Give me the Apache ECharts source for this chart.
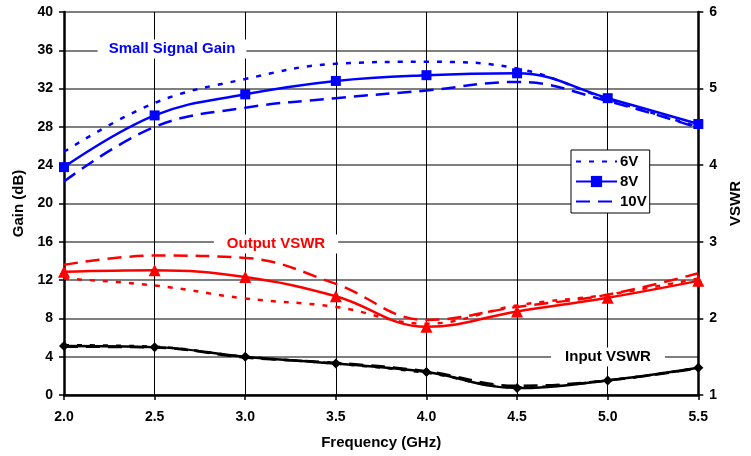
<!DOCTYPE html>
<html><head><meta charset="utf-8">
<script src="https://cdn.jsdelivr.net/npm/echarts@6/dist/echarts.min.js"></script>
<style>html,body{margin:0;padding:0;background:#fff}#c{width:751px;height:456px}</style>
</head><body><div id="c"></div>
<script>
const freq = [2.0, 2.5, 3.0, 3.5, 4.0, 4.5, 5.0, 5.5];
const xTicks = ['2.0','2.5','3.0','3.5','4.0','4.5','5.0','5.5'];
// Small signal gain (dB)
const gain6V  = [25.4, 30.5, 33.0, 34.6, 34.8, 34.1, 30.9, 28.0];
const gain8V  = [23.8, 29.2, 31.4, 32.8, 33.4, 33.6, 31.0, 28.3];
const gain10V = [22.3, 28.0, 30.0, 31.0, 31.8, 32.7, 30.7, 27.9];
// Output VSWR
const out6V  = [2.52, 2.43, 2.26, 2.15, 1.93, 2.17, 2.31, 2.52];
const out8V  = [2.61, 2.63, 2.54, 2.29, 1.89, 2.09, 2.27, 2.49];
const out10V = [2.70, 2.82, 2.79, 2.45, 1.98, 2.15, 2.31, 2.59];
// Input VSWR
const in6V  = [1.65, 1.63, 1.50, 1.41, 1.29, 1.10, 1.19, 1.355];
const in8V  = [1.64, 1.625, 1.50, 1.41, 1.30, 1.09, 1.19, 1.355];
const in10V = [1.63, 1.62, 1.49, 1.42, 1.31, 1.12, 1.19, 1.35];

const pairs = arr => freq.map((f, i) => [f, arr[i]]);
const FONT = 'Liberation Sans';
const dotted = [5, 8], dashed = [14, 8];

function line(name, data, color, type, yIdx, symbol, size) {
  return {
    name, type: 'line', data: pairs(data), yAxisIndex: yIdx, smooth: 0.4,
    symbol: symbol || 'none', symbolSize: size || 0, showSymbol: !!symbol,
    lineStyle: { color, width: 2.5, type },
    itemStyle: { color },
    z: 3
  };
}
const labelFont = 'bold 15px "Liberation Sans"';

const chart = echarts.init(document.getElementById('c'));
chart.setOption({
  animation: false,
  grid: { left: 64, right: 52, top: 12, bottom: 61 },
  xAxis: {
    type: 'value', min: 2, max: 5.5, interval: 0.5,
    name: 'Frequency (GHz)', nameLocation: 'middle', nameGap: 40,
    nameTextStyle: { fontFamily: FONT, fontWeight: 'bold', fontSize: 15, color: '#000' },
    axisLine: { lineStyle: { color: '#000', width: 2.5 } },
    axisTick: { show: true, length: 5, lineStyle: { color: '#000', width: 1.5 } },
    axisLabel: { fontFamily: FONT, fontWeight: 'bold', fontSize: 14, color: '#000', margin: 15,
      formatter: v => xTicks[Math.round((v - 2) / 0.5)] },
    splitLine: { show: true, lineStyle: { color: '#000', width: 1 } }
  },
  yAxis: [{
    type: 'value', min: 0, max: 40, interval: 4,
    name: 'Gain (dB)', nameLocation: 'middle', nameGap: 35, nameRotate: 90,
    nameTextStyle: { fontFamily: FONT, fontWeight: 'bold', fontSize: 15, color: '#000' },
    axisLine: { show: true, lineStyle: { color: '#000', width: 2.5 } },
    axisTick: { show: true, length: 5, lineStyle: { color: '#000', width: 1.5 } },
    axisLabel: { fontFamily: FONT, fontWeight: 'bold', fontSize: 14, color: '#000', margin: 11 },
    splitLine: { show: true, lineStyle: { color: '#555', width: 1.5 } }
  }, {
    type: 'value', min: 1, max: 6, interval: 1, position: 'right',
    name: 'VSWR', nameLocation: 'middle', nameGap: 27, nameRotate: 90,
    nameTextStyle: { fontFamily: FONT, fontWeight: 'bold', fontSize: 15, color: '#000' },
    axisLine: { show: true, lineStyle: { color: '#000', width: 2.5 } },
    axisTick: { show: true, length: 5, lineStyle: { color: '#000', width: 1.5 } },
    axisLabel: { fontFamily: FONT, fontWeight: 'bold', fontSize: 14, color: '#000', margin: 11 },
    splitLine: { show: false }
  }],
  legend: {
    data: [
      { name: '6V', itemStyle: { opacity: 0 } },
      { name: '8V' },
      { name: '10V', itemStyle: { opacity: 0 } }
    ],
    orient: 'vertical', left: 571, top: 150,
    itemWidth: 41, itemHeight: 14, itemGap: 5,
    padding: [4, 3, 4, 4],
    backgroundColor: '#fff', borderColor: '#000', borderWidth: 1, borderRadius: 0,
    textStyle: { fontFamily: FONT, fontWeight: 'bold', fontSize: 15, color: '#000', padding: [0, 0, 0, -2] }
  },
  graphic: [
    { type: 'text', x: 172, y: 49, z: 2,
      style: { text: 'Small Signal Gain', fill: '#0000ff', font: labelFont,
        align: 'center', verticalAlign: 'middle',
        backgroundColor: '#fff', padding: [2, 11, 2, 11] } },
    { type: 'text', x: 276, y: 244, z: 2,
      style: { text: 'Output VSWR', fill: '#ff0000', font: labelFont,
        align: 'center', verticalAlign: 'middle',
        backgroundColor: '#fff', padding: [2, 13, 2, 13] } },
    { type: 'text', x: 608, y: 357, z: 2,
      style: { text: 'Input VSWR', fill: '#000', font: labelFont,
        align: 'center', verticalAlign: 'middle',
        backgroundColor: '#fff', padding: [2, 14, 2, 14] } }
  ],
  series: [
    line('6V', gain6V, '#0000ff', dotted, 0),
    line('8V', gain8V, '#0000ff', 'solid', 0, 'rect', 10),
    line('10V', gain10V, '#0000ff', dashed, 0),
    line('Out 6V', out6V, '#ff0000', dotted, 1),
    line('Out 8V', out8V, '#ff0000', 'solid', 1, 'triangle', 12),
    line('Out 10V', out10V, '#ff0000', dashed, 1),
    line('In 6V', in6V, '#000', dotted, 1),
    line('In 8V', in8V, '#000', 'solid', 1, 'diamond', 10),
    line('In 10V', in10V, '#000', dashed, 1)
  ]
});
</script></body></html>
